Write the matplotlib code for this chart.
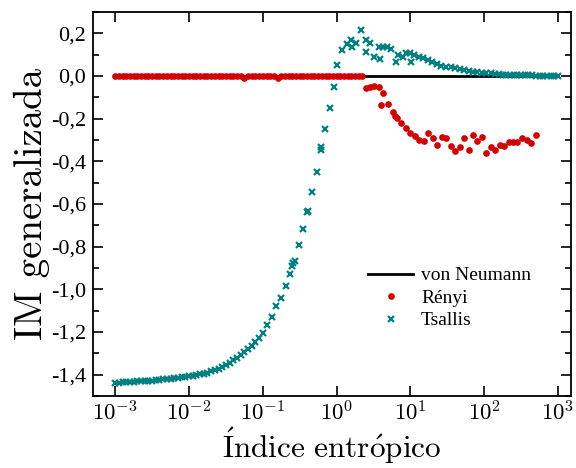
import numpy as np
import matplotlib
matplotlib.use("Agg")
import matplotlib.pyplot as plt
from matplotlib.ticker import FixedLocator, FixedFormatter, LogLocator, MultipleLocator

plt.rcParams['mathtext.fontset'] = 'cm'
plt.rcParams['axes.unicode_minus'] = False

# ---------------- data ----------------
# von Neumann: constant 0 over the whole index range
vn_x = [1e-3, 1e3]
vn_y = [0.0, 0.0]

# Rényi (log10 of index, value)
renyi_logx = [
    -3.00, -2.95, -2.90, -2.85, -2.80, -2.75, -2.70, -2.65, -2.60, -2.55,
    -2.50, -2.45, -2.40, -2.35, -2.30, -2.25, -2.20, -2.15, -2.10, -2.05,
    -2.00, -1.95, -1.90, -1.85, -1.80, -1.75, -1.70, -1.65, -1.60, -1.55,
    -1.50, -1.45, -1.40, -1.35, -1.30, -1.25, -1.20, -1.15, -1.10, -1.05,
    -1.00, -0.95, -0.90, -0.85, -0.80, -0.75, -0.70, -0.65, -0.60, -0.55,
    -0.50, -0.45, -0.40, -0.35, -0.30, -0.25, -0.20, -0.15, -0.10, -0.05,
    0.00, 0.05, 0.10, 0.15, 0.20, 0.25, 0.30, 0.35,
    0.397, 0.451, 0.510, 0.578, 0.633, 0.601, 0.701, 0.760, 0.796, 0.819,
    0.873, 0.941, 1.000, 1.064, 1.122, 1.181, 1.245, 1.304, 1.363, 1.426,
    1.485, 1.544, 1.608, 1.667, 1.726, 1.789, 1.848, 1.907, 1.970, 2.030,
    2.088, 2.152, 2.211, 2.270, 2.333, 2.392, 2.451, 2.515, 2.574, 2.633,
    2.696,
]
renyi_y = [
    0.0, 0.0, 0.0, 0.0, 0.0, 0.0, 0.0, 0.0, 0.0, 0.0,
    0.0, 0.0, 0.0, 0.0, 0.0, 0.0, 0.0, 0.0, 0.0, 0.0,
    0.0, 0.0, 0.0, 0.0, 0.0, 0.0, 0.0, 0.0, 0.0, 0.0,
    0.0, 0.0, 0.0, 0.0, 0.0, -0.008, 0.0, 0.0, 0.0, 0.0,
    0.0, 0.0, 0.0, 0.0, -0.010, 0.0, 0.0, 0.0, 0.0, 0.0,
    0.0, 0.0, 0.0, 0.0, 0.0, 0.0, 0.0, 0.0, 0.0, 0.0,
    0.0, 0.0, 0.0, 0.0, 0.0, 0.0, 0.0, 0.0,
    -0.058, -0.050, -0.047, -0.053, -0.078, -0.136, -0.131, -0.167, -0.187, -0.195,
    -0.218, -0.245, -0.268, -0.281, -0.300, -0.307, -0.265, -0.292, -0.323, -0.287,
    -0.292, -0.326, -0.350, -0.334, -0.289, -0.346, -0.276, -0.304, -0.287, -0.362,
    -0.331, -0.346, -0.323, -0.326, -0.311, -0.311, -0.311, -0.292, -0.300, -0.312,
    -0.276,
]

# Tsallis (log10 of index, value)
tsallis_logx = [
    -3.00, -2.95, -2.90, -2.85, -2.80, -2.75, -2.70, -2.65, -2.60, -2.55,
    -2.50, -2.45, -2.40, -2.35, -2.30, -2.25, -2.20, -2.15, -2.10, -2.05,
    -2.00, -1.95, -1.90, -1.85, -1.80, -1.75, -1.70, -1.65, -1.60, -1.55,
    -1.50, -1.45, -1.40, -1.35, -1.30, -1.25, -1.20, -1.15, -1.10, -1.05,
    -1.00, -0.941, -0.882, -0.819, -0.760, -0.692, -0.637, -0.601, -0.590, -0.569,
    -0.510, -0.451, -0.397, -0.392, -0.329, -0.270, -0.215, -0.206, -0.156, -0.088,
    -0.030, 0.011, 0.079, 0.139, 0.193, 0.215, 0.261, 0.329, 0.397, 0.397,
    0.456, 0.510, 0.569, 0.592, 0.624, 0.678, 0.737, 0.805, 0.828, 0.896,
    0.941, 1.000, 1.010, 1.054, 1.113, 1.167, 1.236, 1.295, 1.363, 1.418,
    1.485, 1.544, 1.608, 1.667, 1.726, 1.789, 1.848, 1.907, 1.970, 2.030,
    2.088, 2.152, 2.20, 2.25, 2.30, 2.35, 2.40, 2.45, 2.50, 2.55,
    2.60, 2.65, 2.70, 2.75, 2.80, 2.85, 2.90, 2.95, 3.00,
]
tsallis_y = [
    -1.438, -1.437, -1.436, -1.435, -1.434, -1.433, -1.432, -1.431, -1.430, -1.429,
    -1.428, -1.426, -1.424, -1.422, -1.420, -1.418, -1.416, -1.414, -1.412, -1.410,
    -1.408, -1.405, -1.402, -1.399, -1.395, -1.390, -1.385, -1.379, -1.372, -1.364,
    -1.355, -1.345, -1.333, -1.320, -1.306, -1.292, -1.278, -1.264, -1.248, -1.228,
    -1.203, -1.169, -1.131, -1.080, -1.041, -0.986, -0.929, -0.890, -0.878, -0.865,
    -0.791, -0.716, -0.638, -0.632, -0.543, -0.449, -0.331, -0.346, -0.250, -0.148,
    -0.050, 0.051, 0.122, 0.150, 0.169, 0.137, 0.153, 0.217, 0.167, 0.114,
    0.157, 0.088, 0.137, 0.078, 0.134, 0.134, 0.125, 0.067, 0.098, 0.090,
    0.106, 0.109, 0.064, 0.098, 0.090, 0.083, 0.075, 0.067, 0.055, 0.047,
    0.044, 0.041, 0.036, 0.033, 0.028, 0.023, 0.020, 0.017, 0.016, 0.012,
    0.012, 0.009, 0.008, 0.007, 0.006, 0.005, 0.005, 0.004, 0.004, 0.003,
    0.003, 0.003, 0.002, 0.002, 0.002, 0.002, 0.002, 0.001, 0.001,
]

y_ticks = [-1.4, -1.2, -1.0, -0.8, -0.6, -0.4, -0.2, 0.0, 0.2]
y_ticklabels = ['-1,4', '-1,2', '-1,0', '-0,8', '-0,6', '-0,4', '-0,2', '0,0', '0,2']
x_ticks = [1e-3, 1e-2, 1e-1, 1e0, 1e1, 1e2, 1e3]
x_ticklabels = [r'$10^{-3}$', r'$10^{-2}$', r'$10^{-1}$', r'$10^{0}$',
                r'$10^{1}$', r'$10^{2}$', r'$10^{3}$']

# ---------------- plot ----------------
fig = plt.figure(figsize=(5.76, 4.68), dpi=100)
ax = fig.add_axes([93 / 576, 1 - 396 / 468, 478 / 576, 384 / 468])

teal = '#008080'
red = '#d40000'

ax.plot(vn_x, vn_y, color='black', lw=2.0, label='von Neumann', zorder=2)
ax.plot(10 ** np.array(renyi_logx), renyi_y, linestyle='none', marker='o',
        ms=3.8, color=red, mec=red, label='Rényi', zorder=3)
ax.plot(10 ** np.array(tsallis_logx), tsallis_y, linestyle='none', marker='x',
        ms=5.0, mew=1.6, color=teal, label='Tsallis', zorder=4)

ax.set_xscale('log')
ax.set_xlim(5e-4, 1500)
ax.set_ylim(-1.5, 0.3)

ax.xaxis.set_major_locator(FixedLocator(x_ticks))
ax.xaxis.set_major_formatter(FixedFormatter(x_ticklabels))
ax.xaxis.set_minor_locator(LogLocator(base=10, subs=np.arange(2, 10)))
ax.yaxis.set_major_locator(FixedLocator(y_ticks))
ax.yaxis.set_major_formatter(FixedFormatter(y_ticklabels))
ax.yaxis.set_minor_locator(MultipleLocator(0.1))

ax.tick_params(which='both', direction='in', top=True, right=True, width=1.2)
ax.tick_params(which='major', length=7)
ax.tick_params(which='minor', length=4)
ax.tick_params(axis='y', which='major', labelsize=16, pad=5)
ax.tick_params(axis='x', which='major', labelsize=16.5, pad=4)
for lab in ax.get_yticklabels():
    lab.set_family('Liberation Serif')
for sp in ax.spines.values():
    sp.set_linewidth(1.3)

ax.set_ylabel('IM generalizada', family=['cmr10', 'DejaVu Serif'], fontsize=28)
ax.yaxis.set_label_coords(-0.09, 0.5)
ax.set_xlabel(r'$\mathrm{\acute{I}ndice\ entr\acute{o}pico}$', fontsize=22.5)
ax.xaxis.set_label_coords(0.5, -0.077)

leg = ax.legend(loc='center left', bbox_to_anchor=(0.56, 0.255), frameon=False,
                prop={'family': ['Liberation Serif'], 'size': 14},
                handlelength=2.3, handletextpad=0.4, labelspacing=0.25,
                borderaxespad=0)

fig.savefig('out.png', dpi=100)
